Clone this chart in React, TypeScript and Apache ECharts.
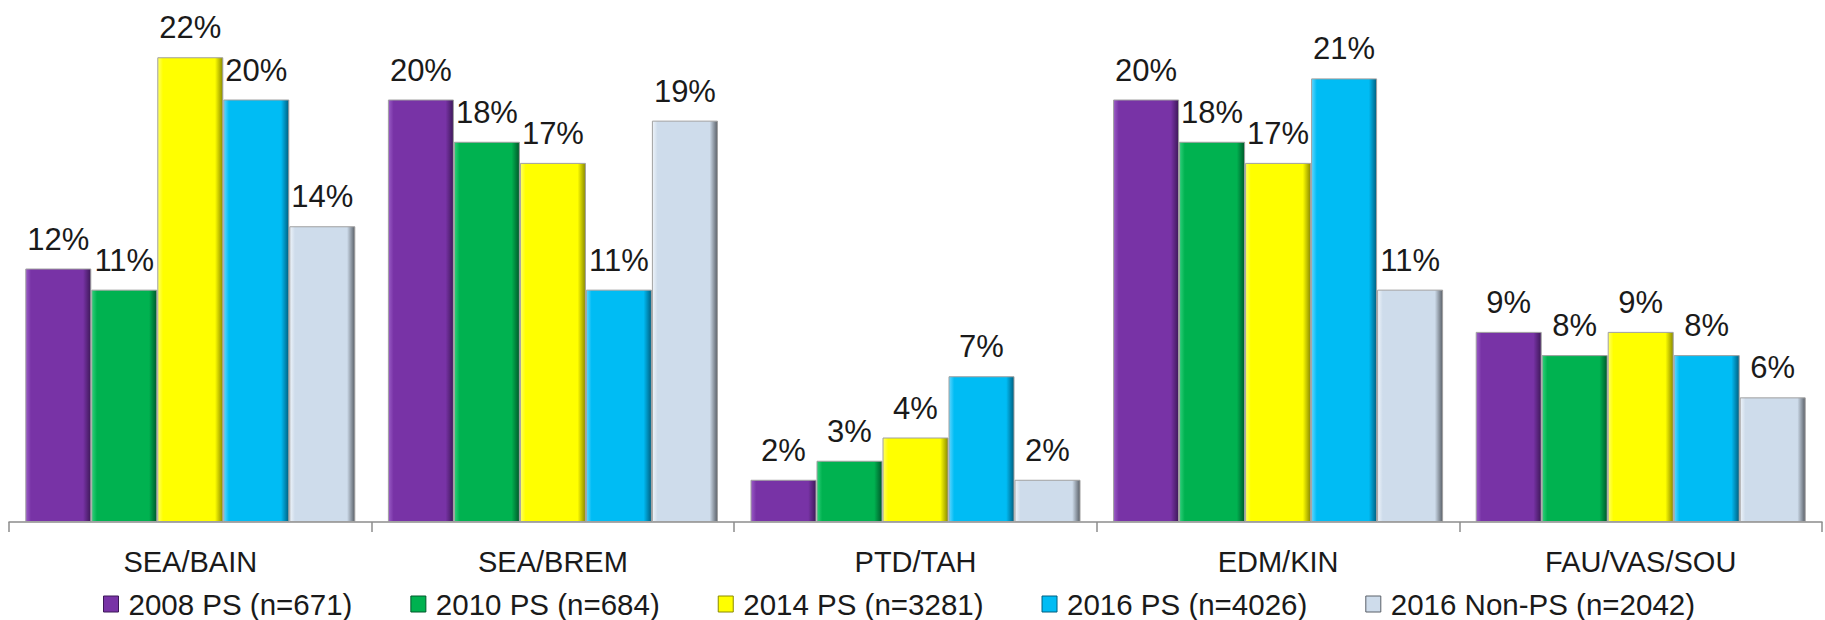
import React, { useEffect, useRef } from "react";
import * as echarts from "echarts";

const categories = ["SEA/BAIN", "SEA/BREM", "PTD/TAH", "EDM/KIN", "FAU/VAS/SOU"];
const seriesNames = [
  "2008 PS (n=671)",
  "2010 PS (n=684)",
  "2014 PS (n=3281)",
  "2016 PS (n=4026)",
  "2016 Non-PS (n=2042)",
];
const values2008 = [12, 20, 2, 20, 9];
const values2010 = [11, 18, 2.9, 18, 7.9];
const values2014 = [22, 17, 4, 17, 9];
const values2016 = [20, 11, 6.9, 21, 7.9];
const valuesNonPS = [14, 19, 2, 11, 5.9];

const seriesValues = [values2008, values2010, values2014, values2016, valuesNonPS];

const palette = [
  { light: "#9a5cc6", base: "#7833a6", dark: "#3d1858" },
  { light: "#2fd07a", base: "#00b250", dark: "#00582a" },
  { light: "#ffff66", base: "#ffff00", dark: "#8a8a00" },
  { light: "#5fd6ff", base: "#00bcf4", dark: "#005f80" },
  { light: "#eef4fa", base: "#cedceb", dark: "#5a6068" },
];

const FONT = "'Liberation Sans', Arial, sans-serif";

export default function App() {
  const ref = useRef<HTMLDivElement>(null);

  useEffect(() => {
    document.body.style.margin = "0";
    if (!ref.current) return;
    const chart = echarts.init(ref.current, undefined, { renderer: "svg" });
    const series = seriesNames.map((name, i) => {
      const c = palette[i];
      return {
        name,
        type: "bar",
        data: seriesValues[i],
        barWidth: 66,
        barGap: "0%",
        itemStyle: {
          color: new echarts.graphic.LinearGradient(0, 0, 1, 0, [
            { offset: 0, color: c.light },
            { offset: 0.08, color: c.base },
            { offset: 0.88, color: c.base },
            { offset: 1, color: c.dark },
          ]),
          borderColor: "#a0a0a0",
          borderWidth: 1,
        },
        label: {
          show: true,
          position: "top",
          distance: 14,
          fontFamily: FONT,
          fontSize: 31,
          color: "#1a1a1a",
          formatter: (p: any) => Math.round(p.value) + "%",
        },
      };
    });
    chart.setOption({
      animation: false,
      textStyle: { fontFamily: FONT },
      grid: { left: 9, right: 3, top: 15, bottom: 98, containLabel: false },
      legend: {
        data: seriesNames.map((n, i) => ({
          name: n,
          itemStyle: { color: palette[i].base, borderColor: palette[i].dark, borderWidth: 1 },
        })),
        left: 98,
        top: 584,
        icon: "rect",
        itemWidth: 15,
        itemHeight: 16,
        itemGap: 58,
        textStyle: {
          fontFamily: FONT,
          fontSize: 29.5,
          color: "#1a1a1a",
          padding: [0, 0, 0, 5],
        },
      },
      xAxis: {
        type: "category",
        data: categories,
        axisLine: { lineStyle: { color: "#8c8c8c", width: 1.5 } },
        axisTick: { show: true, length: 10, lineStyle: { color: "#8c8c8c", width: 1.5 } },
        axisLabel: { fontFamily: FONT, fontSize: 29, color: "#1a1a1a", margin: 25 },
      },
      yAxis: {
        type: "value",
        min: 0,
        max: 24,
        show: false,
        splitLine: { show: false },
      },
      series,
    });
    return () => chart.dispose();
  }, []);

  return <div ref={ref} style={{ width: 1825, height: 620 }} />;
}
